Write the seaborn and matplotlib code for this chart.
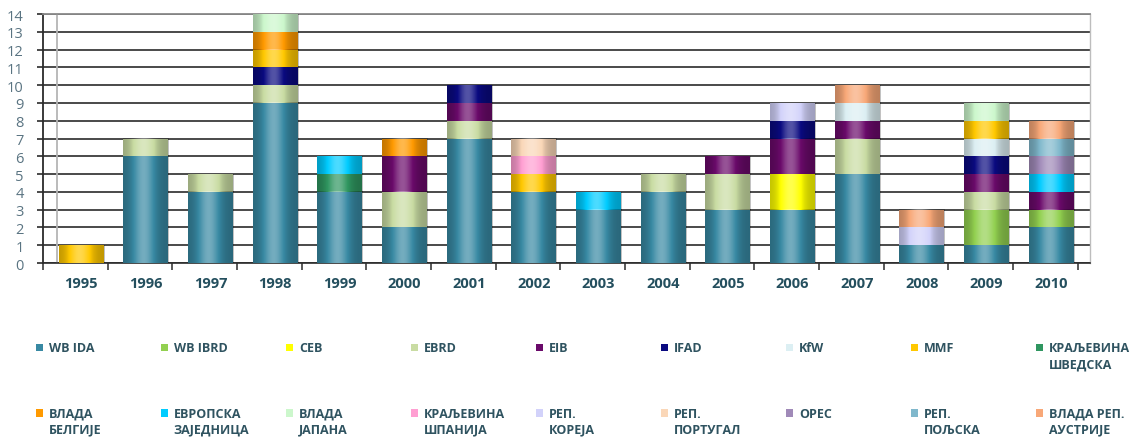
import numpy as np
import matplotlib
matplotlib.use("Agg")
import matplotlib.pyplot as plt
import matplotlib.patches as mpatches
from matplotlib.legend_handler import HandlerPatch
import seaborn as sns

# ── Data ─────────────────────────────────────────────────────────────────────
years = [str(y) for y in range(1995, 2011)]

#            95 96 97 98 99 00 01 02 03 04 05 06 07 08 09 10
wb_ida   = [0, 6, 4, 9, 4, 2, 7, 4, 3, 4, 3, 3, 5, 1, 1, 2]
wb_ibrd  = [0, 0, 0, 0, 0, 0, 0, 0, 0, 0, 0, 0, 0, 0, 2, 1]
ceb      = [0, 0, 0, 0, 0, 0, 0, 0, 0, 0, 0, 2, 0, 0, 0, 0]
ebrd     = [0, 1, 1, 1, 0, 2, 1, 0, 0, 1, 2, 0, 2, 0, 1, 0]
eib      = [0, 0, 0, 0, 0, 2, 1, 0, 0, 0, 1, 2, 1, 0, 1, 1]
ifad     = [0, 0, 0, 1, 0, 0, 1, 0, 0, 0, 0, 1, 0, 0, 1, 0]
kfw      = [0, 0, 0, 0, 0, 0, 0, 0, 0, 0, 0, 0, 1, 0, 1, 0]
mmf      = [1, 0, 0, 1, 0, 0, 0, 1, 0, 0, 0, 0, 0, 0, 1, 0]
svedska  = [0, 0, 0, 0, 1, 0, 0, 0, 0, 0, 0, 0, 0, 0, 0, 0]
belgija  = [0, 0, 0, 1, 0, 1, 0, 0, 0, 0, 0, 0, 0, 0, 0, 0]
ez       = [0, 0, 0, 0, 1, 0, 0, 0, 1, 0, 0, 0, 0, 0, 0, 1]
japan    = [0, 0, 0, 1, 0, 0, 0, 0, 0, 0, 0, 0, 0, 0, 1, 0]
spanija  = [0, 0, 0, 0, 0, 0, 0, 1, 0, 0, 0, 0, 0, 0, 0, 0]
koreja   = [0, 0, 0, 0, 0, 0, 0, 0, 0, 0, 0, 1, 0, 1, 0, 0]
portugal = [0, 0, 0, 0, 0, 0, 0, 1, 0, 0, 0, 0, 0, 0, 0, 0]
opec     = [0, 0, 0, 0, 0, 0, 0, 0, 0, 0, 0, 0, 0, 0, 0, 1]
poljska  = [0, 0, 0, 0, 0, 0, 0, 0, 0, 0, 0, 0, 0, 0, 0, 1]
austrija = [0, 0, 0, 0, 0, 0, 0, 0, 0, 0, 0, 0, 1, 1, 0, 1]

series_names = [
    "WB IDA", "WB IBRD", "CEB", "EBRD", "EIB", "IFAD", "KfW", "MMF",
    "КРАЉЕВИНА\nШВЕДСКА", "ВЛАДА\nБЕЛГИЈЕ", "ЕВРОПСКА\nЗАЈЕДНИЦА",
    "ВЛАДА\nЈАПАНА", "КРАЉЕВИНА\nШПАНИЈА", "РЕП.\nКОРЕЈА", "РЕП.\nПОРТУГАЛ",
    "OPEC", "РЕП.\nПОЉСКА", "ВЛАДА РЕП.\nАУСТРИЈЕ",
]
series_values = [
    wb_ida, wb_ibrd, ceb, ebrd, eib, ifad, kfw, mmf, svedska, belgija,
    ez, japan, spanija, koreja, portugal, opec, poljska, austrija,
]
series_colors = [
    "#3889A3", "#92D050", "#FFFF00", "#C9DCA3", "#6A0A6A", "#0A0A80",
    "#DCEFF3", "#FFC800", "#2F9660", "#FF9A00", "#00CCFF", "#CCF7CC",
    "#FF9FD2", "#D2D2FA", "#FAD7B8", "#A08AB8", "#80B8CC", "#F8A878",
]

# ── Style ────────────────────────────────────────────────────────────────────
sns.set_style("white")
plt.rcParams["font.family"] = ["Open Sans", "DejaVu Sans"]
DARK = "#2b2b2b"

W, H = 1137, 439
fig = plt.figure(figsize=(W / 100, H / 100), dpi=100)
ax = fig.add_axes([43 / W, (H - 264) / H, (1090 - 43) / W, (264 - 15) / H])

# ── Stacked bars ─────────────────────────────────────────────────────────────
bottom = np.zeros(len(years))
for name, vals, col in zip(series_names, series_values, series_colors):
    sns.barplot(x=years, y=vals, bottom=bottom, color=col, width=0.7,
                saturation=1, linewidth=0, edgecolor="none", ax=ax, zorder=3)
    bottom = bottom + np.array(vals)

# cylinder-like shading over every bar segment (dark edges, light centre)
t = np.linspace(0, 1, 64)
v = np.exp(-((t - 0.45) / 0.25) ** 2) - 0.45
shade = np.zeros((1, t.size, 4))
shade[0, :, :3] = (v > 0)[:, None].astype(float)
shade[0, :, 3] = np.clip(np.abs(v) * 0.55, 0, 1)
for p in list(ax.patches):
    if p.get_height() > 0:
        x0, y0 = p.get_x(), p.get_y()
        ax.imshow(shade, extent=(x0, x0 + p.get_width(), y0, y0 + p.get_height()),
                  aspect="auto", interpolation="bilinear", zorder=3.5)

# ── Axes ─────────────────────────────────────────────────────────────────────
ax.set_xlim(-0.59, len(years) - 0.4)
ax.set_ylim(0, 14)
ax.set_yticks(range(0, 15))
ax.yaxis.grid(True, color=DARK, lw=1.2, zorder=0)
ax.set_axisbelow(True)
ax.axvline(-0.37, color="#b5b5b5", lw=1.3, zorder=1)

ax.spines["left"].set_color(DARK)
ax.spines["left"].set_linewidth(1.3)
ax.spines["top"].set_color("#8a8a8a")
ax.spines["top"].set_linewidth(1.3)
ax.spines["right"].set_color("#bdbdbd")
ax.spines["right"].set_linewidth(1.0)
ax.spines["bottom"].set_color(DARK)
ax.spines["bottom"].set_linewidth(1.2)

ax.tick_params(axis="y", left=True, length=4, width=1.2, color=DARK, pad=10,
               labelsize=10.5, labelcolor="#5a7482")
ax.tick_params(axis="x", which="major", length=0, pad=9, labelsize=10.5,
               labelcolor="#244f5e")
for lbl in ax.get_xticklabels():
    lbl.set_fontweight("bold")
ax.set_xticks(np.arange(len(years) + 1) - 0.59, minor=True)
ax.tick_params(axis="x", which="minor", bottom=True, length=5, width=1.1, color=DARK)
ax.set_xlabel("")
ax.set_ylabel("")


# ── Legend: 9 columns x 2 rows, square aligned with first text line ─────────
def top_square(legend, orig_handle, xdescent, ydescent, width, height, fontsize):
    s = 0.58 * fontsize
    return mpatches.Rectangle((-xdescent, -ydescent + (height - s) / 2 + 0.7 * fontsize), s, s)


handles = [mpatches.Patch(facecolor=c, edgecolor="none") for c in series_colors]
labels = [n if "\n" in n else n + "\n" for n in series_names]
ncol = 9
for k in range(ncol):
    idx = [k, k + ncol]
    leg = fig.legend(
        [handles[i] for i in idx], [labels[i] for i in idx],
        loc="upper left", bbox_to_anchor=((36 + 125 * k) / W, 1 - 342 / H),
        frameon=False, borderpad=0, borderaxespad=0, handlelength=0.58,
        handleheight=0.7, handletextpad=0.45, labelspacing=2.9,
        prop={"size": 9, "weight": "bold"},
        handler_map={mpatches.Patch: HandlerPatch(patch_func=top_square)},
    )
    for t_ in leg.get_texts():
        t_.set_color("#2f5360")
        t_.set_linespacing(1.33)

fig.savefig("out.png", dpi=100, facecolor="white")
